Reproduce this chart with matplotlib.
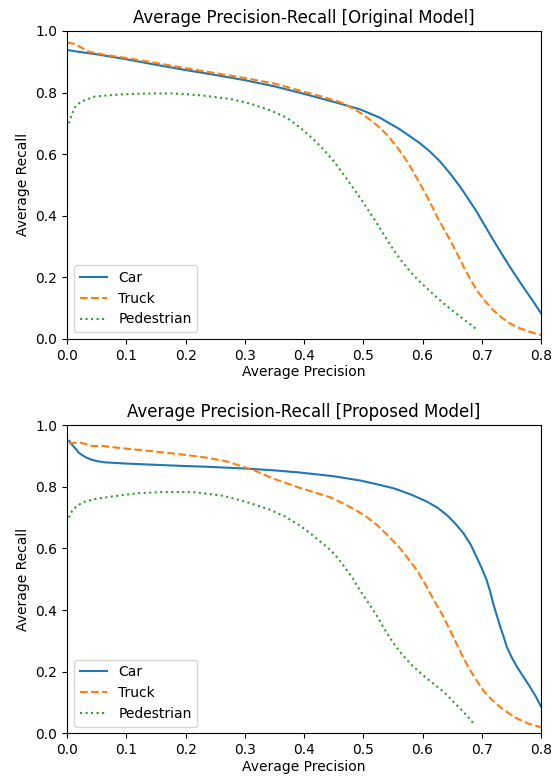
import matplotlib
matplotlib.use("Agg")
import matplotlib.pyplot as plt

# Original model curves (precision, recall)
orig_car_x = [0.0, 0.02, 0.05, 0.1, 0.15, 0.2, 0.25, 0.3, 0.35, 0.393, 0.43, 0.466, 0.495, 0.528,
              0.562, 0.595, 0.612, 0.629, 0.646, 0.663, 0.677, 0.691, 0.705, 0.719, 0.733, 0.747,
              0.761, 0.775, 0.788, 0.8]
orig_car_y = [0.938, 0.932, 0.924, 0.908, 0.890, 0.873, 0.857, 0.840, 0.820, 0.799, 0.780, 0.761,
              0.745, 0.718, 0.680, 0.636, 0.609, 0.577, 0.538, 0.495, 0.455, 0.414, 0.368, 0.322,
              0.278, 0.235, 0.194, 0.154, 0.118, 0.083]

orig_truck_x = [0.0, 0.012, 0.025, 0.036, 0.064, 0.1, 0.15, 0.2, 0.25, 0.3, 0.35, 0.393, 0.43,
                0.466, 0.495, 0.511, 0.528, 0.542, 0.556, 0.568, 0.579, 0.590, 0.601, 0.613,
                0.624, 0.635, 0.646, 0.658, 0.669, 0.680, 0.691, 0.705, 0.719, 0.733, 0.747,
                0.761, 0.775, 0.788, 0.8]
orig_truck_y = [0.962, 0.958, 0.945, 0.933, 0.922, 0.912, 0.896, 0.879, 0.863, 0.847, 0.829, 0.806,
                0.787, 0.765, 0.734, 0.712, 0.686, 0.658, 0.625, 0.593, 0.560, 0.523, 0.485, 0.442,
                0.398, 0.360, 0.322, 0.278, 0.235, 0.196, 0.159, 0.124, 0.094, 0.070, 0.051,
                0.037, 0.027, 0.019, 0.013]

orig_ped_x = [0.003, 0.008, 0.014, 0.022, 0.031, 0.047, 0.07, 0.092, 0.12, 0.149, 0.18, 0.205,
              0.235, 0.262, 0.2754, 0.309, 0.343, 0.371, 0.394, 0.413, 0.433, 0.450, 0.467,
              0.481, 0.495, 0.509, 0.523, 0.537, 0.551, 0.565, 0.579, 0.593, 0.607, 0.621,
              0.635, 0.649, 0.663, 0.679, 0.694]
orig_ped_y = [0.700, 0.730, 0.754, 0.768, 0.776, 0.787, 0.791, 0.794, 0.796, 0.797, 0.797, 0.794,
              0.789, 0.782, 0.779, 0.764, 0.742, 0.718, 0.685, 0.653, 0.615, 0.577, 0.533,
              0.495, 0.457, 0.416, 0.375, 0.331, 0.289, 0.252, 0.219, 0.190, 0.165, 0.140,
              0.116, 0.094, 0.073, 0.050, 0.027]

# Proposed model curves
prop_car_x = [0.003, 0.008, 0.014, 0.02, 0.025, 0.033, 0.042, 0.053, 0.064, 0.1, 0.149, 0.2,
              0.233, 0.3, 0.35, 0.393, 0.45, 0.495, 0.523, 0.551, 0.58, 0.607, 0.625, 0.641,
              0.655, 0.669, 0.681, 0.691, 0.700, 0.708, 0.714, 0.719, 0.725, 0.731, 0.737,
              0.742, 0.750, 0.759, 0.770, 0.781, 0.791, 0.8]
prop_car_y = [0.949, 0.937, 0.924, 0.910, 0.903, 0.894, 0.887, 0.882, 0.879, 0.875, 0.871, 0.867,
              0.865, 0.859, 0.853, 0.846, 0.834, 0.820, 0.808, 0.795, 0.775, 0.752, 0.732, 0.708,
              0.681, 0.649, 0.613, 0.573, 0.535, 0.498, 0.460, 0.422, 0.384, 0.346, 0.312,
              0.281, 0.248, 0.217, 0.184, 0.152, 0.120, 0.087]

prop_truck_x = [0.003, 0.012, 0.022, 0.032, 0.042, 0.06, 0.092, 0.149, 0.2, 0.233, 0.27, 0.317,
                0.35, 0.393, 0.444, 0.467, 0.489, 0.505, 0.523, 0.545, 0.562, 0.576, 0.590, 0.602,
                0.613, 0.624, 0.635, 0.646, 0.657, 0.668, 0.680, 0.691, 0.702, 0.716, 0.730,
                0.745, 0.759, 0.779, 0.8]
prop_truck_y = [0.940, 0.942, 0.943, 0.938, 0.932, 0.932, 0.925, 0.914, 0.903, 0.895, 0.882, 0.852,
                0.825, 0.796, 0.766, 0.745, 0.722, 0.703, 0.676, 0.635, 0.600, 0.566, 0.530, 0.492,
                0.454, 0.416, 0.379, 0.336, 0.292, 0.248, 0.206, 0.172, 0.141, 0.111, 0.087,
                0.066, 0.049, 0.032, 0.020]

prop_ped_x = [0.003, 0.008, 0.014, 0.022, 0.031, 0.047, 0.064, 0.09, 0.12, 0.165, 0.216, 0.262,
              0.2754, 0.309, 0.343, 0.368, 0.394, 0.416, 0.439, 0.453, 0.467, 0.481, 0.495,
              0.509, 0.523, 0.537, 0.551, 0.565, 0.579, 0.593, 0.607, 0.621, 0.635, 0.649,
              0.663, 0.676, 0.688]
prop_ped_y = [0.700, 0.720, 0.733, 0.744, 0.752, 0.760, 0.765, 0.772, 0.779, 0.783, 0.782, 0.771,
              0.765, 0.747, 0.725, 0.703, 0.673, 0.640, 0.604, 0.578, 0.543, 0.506, 0.462,
              0.422, 0.381, 0.334, 0.292, 0.257, 0.227, 0.202, 0.179, 0.157, 0.136, 0.109,
              0.082, 0.055, 0.028]

labels = ["Car", "Truck", "Pedestrian"]
titles = ["Average Precision-Recall [Original Model]",
          "Average Precision-Recall [Proposed Model]"]

fig = plt.figure(figsize=(5.59, 7.78), dpi=100)
ax1 = fig.add_axes([0.12, 0.5643, 0.848, 0.396])
ax2 = fig.add_axes([0.12, 0.0572, 0.848, 0.3965])

panels = [
    (ax1, [(orig_car_x, orig_car_y), (orig_truck_x, orig_truck_y), (orig_ped_x, orig_ped_y)]),
    (ax2, [(prop_car_x, prop_car_y), (prop_truck_x, prop_truck_y), (prop_ped_x, prop_ped_y)]),
]
styles = [("#1f77b4", "-"), ("#ff7f0e", "--"), ("#2ca02c", ":")]

for (ax, series), title in zip(panels, titles):
    for (xs, ys), lab, (c, ls) in zip(series, labels, styles):
        ax.plot(xs, ys, color=c, linestyle=ls, linewidth=1.5, label=lab)
    ax.set_xlim(0.0, 0.8)
    ax.set_ylim(0.0, 1.0)
    ax.set_title(title, fontsize=12)
    ax.set_xlabel("Average Precision", fontsize=10, labelpad=2)
    ax.set_ylabel("Average Recall", fontsize=10)
    ax.tick_params(labelsize=10)
    ax.legend(loc="lower left", fontsize=10)

fig.savefig("out.png", dpi=100)
